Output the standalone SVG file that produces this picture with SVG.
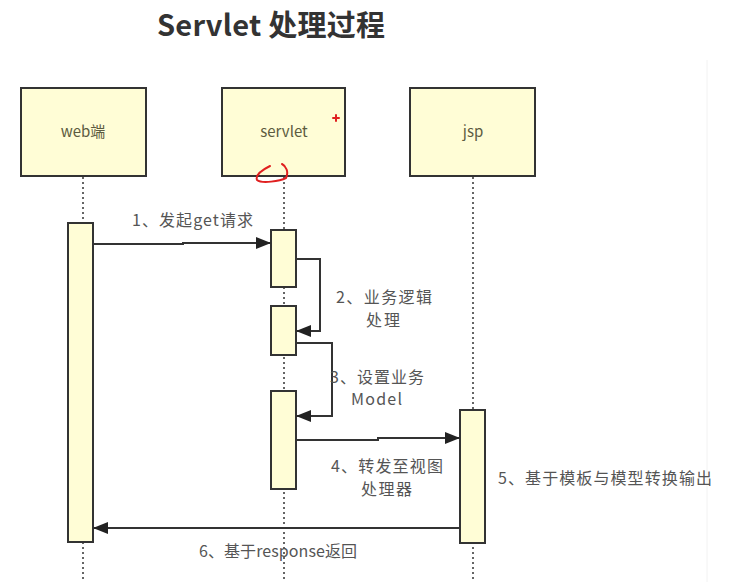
<svg xmlns="http://www.w3.org/2000/svg" width="737" height="582" viewBox="0 0 737 582">
  <defs>
    <style>
      .head { fill: #fffdd6; stroke: #333; stroke-width: 2; }
      .bar { fill: #fffdd6; stroke: #333; stroke-width: 2; }
      .life { stroke: #333; stroke-width: 1.5; stroke-dasharray: 2 3; fill: none; }
      .msg { stroke: #333; stroke-width: 2; fill: none; }
      .name { font-family: "Noto Sans CJK SC", "Noto Sans", sans-serif; font-size: 15px; fill: #5c5b40; text-anchor: middle; }
      .lbl { font-family: "Noto Sans CJK SC", "Noto Sans", sans-serif; font-size: 16px; fill: #555; }
      .title { font-family: "Noto Sans CJK SC", "Noto Sans", sans-serif; font-size: 29px; font-weight: bold; fill: #333; }
      .ink { stroke: #e02020; stroke-width: 2; fill: none; stroke-linecap: round; }
    </style>
    <marker id="arrow" markerUnits="userSpaceOnUse" markerWidth="16" markerHeight="12" refX="15" refY="6" orient="auto">
      <path d="M0,0 L15,6 L0,12 Z" fill="#222"/>
    </marker>
  </defs>

  <rect width="737" height="582" fill="#fff"/>
  <line x1="707" y1="60" x2="707" y2="582" stroke="#f2f2f2" stroke-width="1"/>

  <text class="title" x="157" y="36" textLength="228">Servlet 处理过程</text>

  <!-- lifelines -->
  <g id="lifelines">
    <line class="life" x1="83" y1="177" x2="83" y2="582"/>
    <line class="life" x1="284" y1="177" x2="284" y2="582"/>
    <line class="life" x1="473" y1="177" x2="473" y2="582"/>
  </g>

  <!-- participants -->
  <g id="web">
    <rect class="head" x="21" y="88" width="125" height="88"/>
    <text class="name" x="83" y="137">web端</text>
    <rect class="bar" x="68" y="223" width="25" height="319"/>
  </g>
  <g id="servlet">
    <rect class="head" x="222" y="88" width="123" height="88"/>
    <text class="name" x="284" y="137">servlet</text>
    <rect class="bar" x="271" y="230" width="25" height="57"/>
    <rect class="bar" x="271" y="306" width="25" height="49"/>
    <rect class="bar" x="271" y="391" width="25" height="98"/>
  </g>
  <g id="jsp">
    <rect class="head" x="410" y="88" width="125" height="88"/>
    <text class="name" x="473" y="137">jsp</text>
    <rect class="bar" x="460" y="410" width="25" height="133"/>
  </g>

  <!-- messages -->
  <g id="connectors">
    <path class="msg" d="M93,244 L183,244 L183,243 L271,243" marker-end="url(#arrow)"/>
    <path class="msg" d="M296,259 L320,259 L320,331 L296,331" marker-end="url(#arrow)"/>
    <path class="msg" d="M296,343 L332,343 L332,416 L296,416" marker-end="url(#arrow)"/>
    <path class="msg" d="M296,440 L378,440 L378,438 L460,438" marker-end="url(#arrow)"/>
    <path class="msg" d="M460,528 L93,528" marker-end="url(#arrow)"/>
  </g>

  <!-- labels -->
  <g id="labels">
    <text class="lbl" x="132" y="226" textLength="121">1、发起get请求</text>
    <text class="lbl" x="336" y="303" textLength="96">2、业务逻辑</text>
    <text class="lbl" x="366" y="326" textLength="34">处理</text>
    <text class="lbl" x="330" y="383" textLength="94">3、设置业务</text>
    <text class="lbl" x="351" y="405" textLength="51">Model</text>
    <text class="lbl" x="331" y="472" textLength="112">4、转发至视图</text>
    <text class="lbl" x="361" y="495" textLength="51">处理器</text>
    <text class="lbl" x="498" y="484" textLength="214">5、基于模板与模型转换输出</text>
    <text class="lbl" x="199" y="557" textLength="158">6、基于response返回</text>
  </g>

  <!-- red pen marks -->
  <g id="pen">
    <path class="ink" d="M333,118 L339,118 M336,115 L336,121"/>
    <path class="ink" d="M270,166 C262,170 255,175 257,180 C262,184 280,181 286,178 C289,172 286,166 282,164"/>
  </g>
</svg>
